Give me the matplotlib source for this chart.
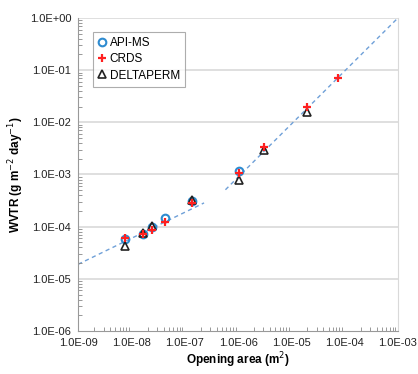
import matplotlib.pyplot as plt
from matplotlib.ticker import LogLocator, FixedLocator, FuncFormatter, NullFormatter

plt.rcParams['font.family'] = ['Liberation Sans', 'DejaVu Sans']

# opening areas (m2) and WVTR (g m-2 day-1)
api_x = [7.6e-9, 1.68e-8, 2.45e-8, 4.3e-8, 1.35e-7, 1.05e-6]
api_y = [5.9e-5, 7.1e-5, 1.0e-4, 1.44e-4, 3.1e-4, 1.15e-3]

crds_x = [7.6e-9, 1.68e-8, 2.45e-8, 4.3e-8, 1.35e-7, 1.05e-6, 3.1e-6, 1.95e-5, 7.4e-5]
crds_y = [6.0e-5, 7.2e-5, 8.5e-5, 1.23e-4, 2.9e-4, 1.07e-3, 3.3e-3, 1.96e-2, 7.2e-2]

dp_x = [7.6e-9, 1.68e-8, 2.45e-8, 1.35e-7, 1.05e-6, 3.1e-6, 1.95e-5]
dp_y = [4.3e-5, 7.5e-5, 1.05e-4, 3.3e-4, 8.0e-4, 2.9e-3, 1.6e-2]

# fitted trend lines
fit1_x = [1e-9, 2.3e-7]
fit1_y = [1.9e-5, 2.85e-4]
fit2_x = [5.8e-7, 1e-3]
fit2_y = [5.1e-4, 1.0]

x_ticks = [1e-9, 1e-8, 1e-7, 1e-6, 1e-5, 1e-4, 1e-3]
y_ticks = [1e-6, 1e-5, 1e-4, 1e-3, 1e-2, 1e-1, 1e0]

fig, ax = plt.subplots(figsize=(4.18, 3.74), dpi=100)
fig.subplots_adjust(left=0.187, right=0.952, top=0.952, bottom=0.115)

ax.set_xscale('log')
ax.set_yscale('log')
ax.set_xlim(1e-9, 1e-3)
ax.set_ylim(1e-6, 1e0)

for yv in y_ticks[1:]:
    ax.axhline(yv, color='#d9d9d9', lw=1.2, zorder=0)

ax.plot(fit1_x, fit1_y, ls=(0, (3, 2.5)), color='#6fa0d8', lw=1.0, zorder=1)
ax.plot(fit2_x, fit2_y, ls=(0, (3, 2.5)), color='#6fa0d8', lw=1.0, zorder=1)

ax.plot(api_x, api_y, 'o', mfc='none', mec='#2e8bd0', mew=1.5, ms=5.5, label='API-MS', zorder=3)
ax.plot(crds_x, crds_y, '+', color='#ff2020', mew=1.6, ms=6, label='CRDS', zorder=4)
ax.plot(dp_x, dp_y, '^', mfc='none', mec='#222222', mew=1.2, ms=5.5, label='DELTAPERM', zorder=3)

fmt = FuncFormatter(lambda v, p: '%.1E' % v)
ax.xaxis.set_major_locator(FixedLocator(x_ticks))
ax.yaxis.set_major_locator(FixedLocator(y_ticks))
ax.xaxis.set_major_formatter(fmt)
ax.yaxis.set_major_formatter(fmt)
ax.xaxis.set_minor_locator(LogLocator(base=10, subs=range(2, 10), numticks=10))
ax.yaxis.set_minor_locator(LogLocator(base=10, subs=range(2, 10), numticks=10))
ax.xaxis.set_minor_formatter(NullFormatter())
ax.yaxis.set_minor_formatter(NullFormatter())
ax.tick_params(which='both', direction='in', colors='#888888', labelcolor='#222222', labelsize=8)
ax.tick_params(which='major', length=0, pad=5)
ax.tick_params(which='minor', length=3, width=0.6)

for s in ['left', 'bottom']:
    ax.spines[s].set_color('#999999')
ax.spines['right'].set_color('#d9d9d9')
ax.spines['top'].set_visible(False)

ax.set_xlabel('Opening area (m$^2$)', fontsize=8.5, fontweight='bold', labelpad=2)
ax.set_ylabel('WVTR (g m$^{-2}$ day$^{-1}$)', fontsize=8.5, fontweight='bold', labelpad=3)

leg = ax.legend(loc='upper left', bbox_to_anchor=(0.045, 0.955), fontsize=8.5, frameon=True,
                fancybox=False, edgecolor='#999999', handlelength=0.7, handletextpad=0.3,
                borderpad=0.45, labelspacing=0.35, borderaxespad=0)
leg.get_frame().set_linewidth(0.8)

fig.savefig('out.png', dpi=100)
